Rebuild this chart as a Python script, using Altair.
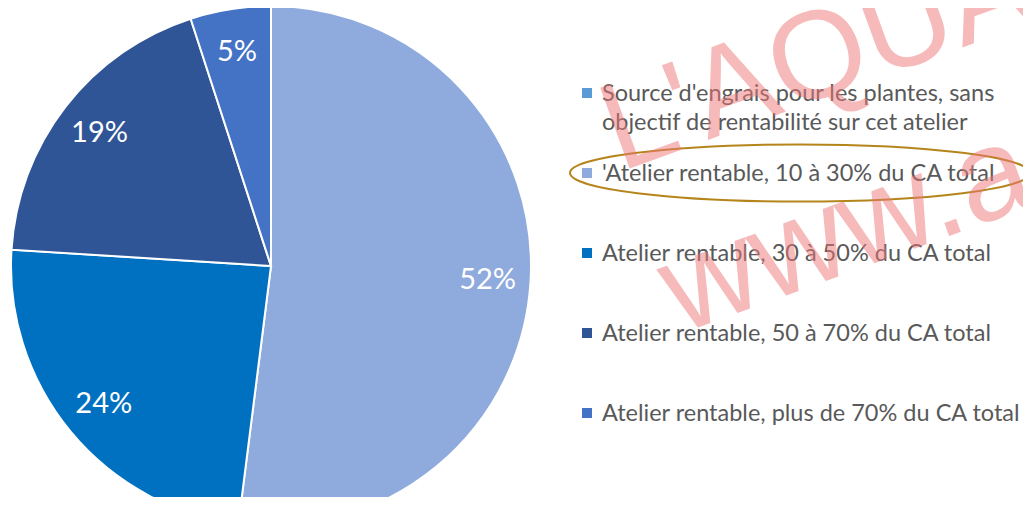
import altair as alt
import pandas as pd

# ---- data ----
categories = [
    "Source d'engrais pour les plantes, sans\nobjectif de rentabilité sur cet atelier",
    "'Atelier rentable, 10 à 30% du CA total",
    "Atelier rentable, 30 à 50% du CA total",
    "Atelier rentable, 50 à 70% du CA total",
    "Atelier rentable, plus de 70% du CA total",
]
shares = [0, 52, 24, 19, 5]
share_labels = ["", "52%", "24%", "19%", "5%"]
colors = ["#5B9BD5", "#8FAADC", "#0070C0", "#2F5597", "#4472C4"]
watermark_texts = ["L'AQUAPONIE", "www.aquaponie"]

df = pd.DataFrame({
    "cat": categories,
    "share": shares,
    "label": share_labels,
    "idx": list(range(len(categories))),
})

# ---- layout (chart coordinates; page = chart + 8) ----
W, H = 1015, 489
CX, CY, R = 263, 258, 260
LABEL_R = 217
FONT = "Lato"

color = alt.Color("cat:N", scale=alt.Scale(domain=categories, range=colors), legend=None)
theta = alt.Theta("share:Q", stack=True)
order = alt.Order("idx:Q")

base = alt.Chart(df)
pie_base = base.transform_filter("datum.share > 0")

pie = pie_base.mark_arc(radius=R, stroke="white", strokeWidth=2).encode(
    theta=theta, color=color, order=order,
    x=alt.value(CX), y=alt.value(CY),
)

pie_text = pie_base.mark_text(
    radius=LABEL_R, font=FONT, fontSize=29, color="white"
).encode(
    theta=theta, order=order, text="label:N",
    x=alt.value(CX), y=alt.value(CY),
)

leg_y = alt.Y("idx:Q", scale=alt.Scale(domain=[0, 4], range=[85, 405]), axis=None)

leg_sq = base.mark_square(size=100, filled=True, opacity=1).encode(
    x=alt.value(579), y=leg_y, color=color,
)

leg_text = base.mark_text(
    align="left", baseline="top", yOffset=-11, lineBreak="\n", lineHeight=29,
    font=FONT, fontSize=23.5, color="#595959",
).encode(
    x=alt.value(594), y=leg_y, text="cat:N",
)

ellipse = alt.Chart(pd.DataFrame({"k": [0]})).mark_point(
    shape="M -1 0 A 1 0.124 0 1 0 1 0 A 1 0.124 0 1 0 -1 0 Z",
    size=460 * 460, filled=False, stroke="#B5851C", strokeWidth=2, opacity=1,
).encode(x=alt.value(792), y=alt.value(165))

wm1 = alt.Chart(pd.DataFrame({"t": [watermark_texts[0]]})).mark_text(
    align="left", baseline="alphabetic", angle=340,
    font="Liberation Sans Narrow, Liberation Sans",
    fontSize=125, color="#EE7777", opacity=0.5, clip=True,
).encode(x=alt.value(612), y=alt.value(164), text="t:N")

wm2 = alt.Chart(pd.DataFrame({"t": [watermark_texts[1]]})).mark_text(
    align="left", baseline="alphabetic", angle=340, font="Liberation Sans",
    fontSize=130, color="#EE7777", opacity=0.5, clip=True,
).encode(x=alt.value(672), y=alt.value(326), text="t:N")

chart = alt.layer(pie, pie_text, leg_sq, leg_text, ellipse, wm1, wm2).properties(
    width=W, height=H,
    autosize=alt.AutoSizeParams(type="none"),
    padding=0,
).configure_view(stroke=None)

chart.save("out.html", embed_options={"renderer": "svg", "actions": False})
